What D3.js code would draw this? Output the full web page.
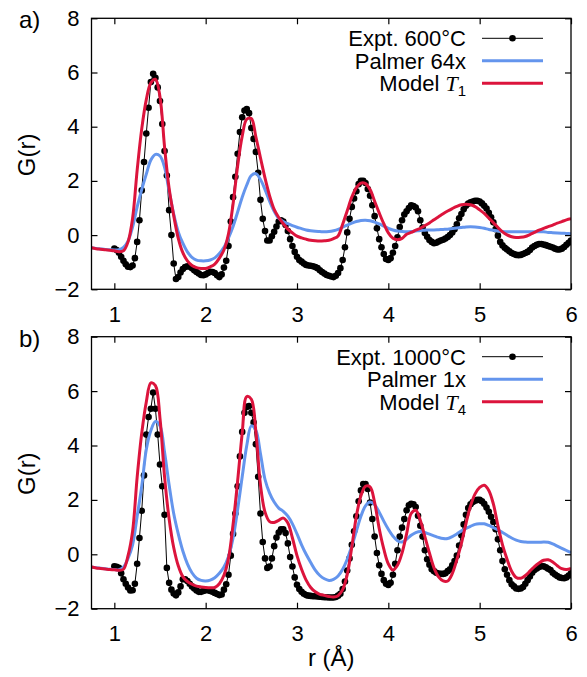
<!DOCTYPE html>
<html>
<head>
<meta charset="utf-8">
<script src="https://cdn.jsdelivr.net/npm/d3@7"></script>
<style>
  body { margin: 0; background: #fff; }
  svg { display: block; }
  text { font-family: "Liberation Sans", Arial, Helvetica, sans-serif; fill: #000; }
</style>
</head>
<body>
<svg id="chart" width="587" height="677"></svg>
<script>
// ---- sampling grids (Å) ----
const exptStart = 1.0, exptStep = 0.025;   // measured G(r) points
const lineStart = 0.75, lineStep = 0.05;   // simulated curves

const xTicks = [1, 2, 3, 4, 5, 6];
const yTicks = [-2, 0, 2, 4, 6, 8];
const xDomain = [0.75, 6];
const yDomain = [-2, 8];

// ---- panel a: 600 °C ----
const exptA = [
  -0.50,-0.55,-0.65,-0.80,-0.95,-1.08,-1.17,-1.18,
  -1.12,-0.85,-0.25, 0.55, 1.65, 2.70, 3.75, 4.70,
   5.65, 5.95, 5.80, 5.45, 4.95, 4.10, 3.10, 2.20,
   0.92, 0.00,-1.05,-1.62,-1.55,-1.38,-1.25,-1.18,
  -1.15,-1.17,-1.22,-1.30,-1.36,-1.42,-1.47,-1.48,
  -1.45,-1.40,-1.35,-1.36,-1.40,-1.48,-1.55,-1.45,
  -1.20,-0.95,-0.40, 0.50, 1.40, 2.15, 3.00, 3.80,
   4.35, 4.60, 4.65, 4.50, 3.95, 3.55, 3.07, 2.30,
   1.30, 0.60, 0.15,-0.20,-0.20,-0.04, 0.12, 0.32,
   0.50, 0.55, 0.50, 0.37, 0.15,-0.15,-0.40,-0.62,
  -0.80,-0.92,-0.98,-1.05,-1.10,-1.12,-1.13,-1.15,
  -1.18,-1.22,-1.30,-1.36,-1.42,-1.47,-1.50,-1.53,
  -1.55,-1.50,-1.40,-1.22,-0.92,-0.45, 0.10, 0.60,
   1.04, 1.35, 1.62, 1.88, 2.00, 2.00, 1.92, 1.70,
   1.45, 1.10, 0.70, 0.25,-0.15,-0.45,-0.70,-0.88,
  -0.92,-0.85,-0.65,-0.40,-0.08, 0.30, 0.55, 0.76,
   0.88, 1.00, 1.10, 1.07, 1.02, 0.88, 0.55, 0.28,
   0.08,-0.06,-0.18,-0.25,-0.30,-0.28,-0.24,-0.20,
  -0.17,-0.13,-0.07, 0.00, 0.10, 0.22, 0.40, 0.62,
   0.78, 0.95, 1.08, 1.16, 1.21, 1.24, 1.27, 1.27,
   1.24, 1.17, 1.08, 0.98, 0.82, 0.66, 0.47, 0.22,
  -0.02,-0.25,-0.38,-0.47,-0.53,-0.60,-0.66,-0.70,
  -0.73,-0.74,-0.73,-0.70,-0.66,-0.62,-0.55,-0.46,
  -0.40,-0.36,-0.33,-0.33,-0.35,-0.37,-0.40,-0.43,
  -0.46,-0.50,-0.53,-0.53,-0.50,-0.44,-0.36,-0.28,
  -0.20
];
const palmerA = [
  -0.47,-0.49,-0.51,-0.53,-0.54,
  -0.55,-0.54,-0.45,-0.22, 0.30,
   1.04, 1.68, 2.25, 2.77, 2.98,
   2.92, 2.50, 1.62, 0.78, 0.12,
  -0.30,-0.62,-0.82,-0.92,-0.95,
  -0.95,-0.92,-0.84,-0.68,-0.45,
  -0.10, 0.32, 0.85, 1.40, 1.85,
   2.20, 2.27, 2.05, 1.68, 1.25,
   0.88, 0.62, 0.50, 0.42, 0.35,
   0.29, 0.24, 0.19, 0.16, 0.14,
   0.13, 0.12, 0.13, 0.16, 0.21,
   0.29, 0.37, 0.44, 0.50, 0.54,
   0.55, 0.53, 0.48, 0.41, 0.33,
   0.25, 0.19, 0.15, 0.13, 0.12,
   0.13, 0.15, 0.17, 0.18, 0.19,
   0.19, 0.20, 0.21, 0.22, 0.24,
   0.26, 0.28, 0.30, 0.31, 0.30,
   0.28, 0.25, 0.21, 0.18, 0.15,
   0.13, 0.12, 0.12, 0.12, 0.12,
   0.12, 0.12, 0.12, 0.12, 0.12,
   0.10, 0.09, 0.08, 0.07, 0.06,
   0.05
];
const modelA = [
  -0.47,-0.50,-0.52,-0.54,-0.56,
  -0.58,-0.61,-0.58,-0.25, 0.62,
   2.40, 3.92, 5.00, 5.62, 5.75,
   5.10, 3.25, 1.72, 0.72,-0.12,
  -0.65,-0.95,-1.12,-1.20,-1.23,
  -1.23,-1.17,-1.07,-0.85,-0.55,
   0.05, 1.15, 2.55, 3.65, 4.28,
   4.30, 3.62, 2.85, 2.10, 1.45,
   0.95, 0.65, 0.42, 0.22, 0.08,
  -0.04,-0.10,-0.15,-0.19,-0.21,
  -0.22,-0.21,-0.19,-0.13,-0.03,
   0.40, 0.90, 1.40, 1.75, 1.92,
   1.90, 1.68, 1.25, 0.82, 0.42,
   0.08,-0.12,-0.17,-0.12, 0.03,
   0.10, 0.18, 0.25, 0.35, 0.45,
   0.57, 0.68, 0.79, 0.89, 0.98,
   1.06, 1.12, 1.14, 1.12, 1.05,
   0.93, 0.80, 0.63, 0.46, 0.28,
   0.12, 0.01,-0.06,-0.09,-0.08,
  -0.05, 0.02, 0.10, 0.18, 0.25,
   0.31, 0.37, 0.44, 0.50, 0.56,
   0.60
];

// ---- panel b: 1000 °C ----
const exptB = [
  -0.44,-0.46,-0.50,-0.70,-0.92,-1.08,-1.22,-1.33,
  -1.32,-1.08,-0.35, 0.60, 1.60, 2.90, 4.40, 5.05,
   5.35, 5.95, 5.35, 4.40, 3.30, 2.50, 1.45,-0.50,
  -1.05,-1.30,-1.44,-1.51,-1.40,-1.18,-0.92,-0.92,
  -0.98,-1.08,-1.18,-1.26,-1.33,-1.38,-1.38,-1.35,
  -1.32,-1.32,-1.35,-1.38,-1.42,-1.46,-1.50,-1.48,
  -1.30,-1.10,-0.75,-0.05, 0.75, 1.50, 2.50, 3.60,
   4.50, 5.20, 5.42, 5.45, 5.20, 4.85, 4.05, 2.85,
   1.50, 0.45,-0.15,-0.50,-0.45,-0.15, 0.30, 0.62,
   0.80, 0.92, 0.92, 0.78, 0.40,-0.10,-0.45,-0.85,
  -1.12,-1.28,-1.38,-1.45,-1.50,-1.52,-1.53,-1.54,
  -1.54,-1.55,-1.56,-1.57,-1.58,-1.58,-1.59,-1.59,
  -1.59,-1.57,-1.52,-1.45,-1.28,-1.00,-0.60,-0.15,
   0.35, 0.85, 1.40, 1.95, 2.35, 2.58, 2.58, 2.40,
   1.90, 1.30, 0.65, 0.05,-0.40,-0.72,-0.95,-1.08,
  -1.13,-1.05,-0.75,-0.35, 0.15, 0.65, 0.98, 1.30,
   1.62, 1.80, 1.86, 1.84, 1.74, 1.42, 1.05, 0.65,
   0.15,-0.18,-0.38,-0.55,-0.62,-0.68,-0.71,-0.72,
  -0.72,-0.70,-0.62,-0.55,-0.40,-0.25,-0.05, 0.32,
   0.70, 1.10, 1.45, 1.70, 1.84, 1.92, 1.97, 2.00,
   2.00, 1.95, 1.86, 1.72, 1.56, 1.38, 1.19, 0.92,
   0.55, 0.15,-0.25,-0.55,-0.75,-0.95,-1.10,-1.18,
  -1.26,-1.27,-1.26,-1.20,-1.08,-0.95,-0.82,-0.68,
  -0.58,-0.52,-0.47,-0.44,-0.44,-0.48,-0.53,-0.58,
  -0.68,-0.74,-0.80,-0.85,-0.87,-0.88,-0.85,-0.78,
  -0.70
];
const palmerB = [
  -0.47,-0.49,-0.51,-0.53,-0.55,
  -0.56,-0.57,-0.47,-0.15, 0.35,
   1.40, 2.50, 3.85, 4.55, 4.88,
   4.72, 3.75, 2.55, 1.50, 0.75,
   0.12,-0.35,-0.68,-0.88,-0.96,
  -0.98,-0.95,-0.86,-0.70,-0.47,
  -0.08, 0.60, 1.65, 2.85, 4.00,
   4.72, 4.55, 3.70, 2.75, 2.25,
   1.92, 1.70, 1.58, 1.40, 1.12,
   0.75, 0.35, 0.00,-0.30,-0.58,
  -0.78,-0.90,-0.96,-0.92,-0.80,
  -0.55,-0.18, 0.30, 0.85, 1.40,
   1.78, 1.92, 1.82, 1.55, 1.22,
   0.92, 0.67, 0.50, 0.45, 0.55,
   0.70, 0.80, 0.84, 0.80, 0.74,
   0.68, 0.62, 0.58, 0.58, 0.65,
   0.75, 0.86, 0.95, 1.03, 1.10,
   1.12, 1.12, 1.06, 0.98, 0.90,
   0.80, 0.70, 0.60, 0.52, 0.47,
   0.45, 0.44, 0.44, 0.44, 0.45,
   0.44, 0.38, 0.30, 0.22, 0.14,
   0.06
];
const modelB = [
  -0.47,-0.50,-0.52,-0.54,-0.56,
  -0.57,-0.59,-0.55,-0.05, 0.85,
   2.84, 4.45, 5.60, 6.30, 6.20,
   5.00, 2.85, 1.30, 0.25,-0.42,
  -0.82,-1.00,-1.10,-1.17,-1.20,
  -1.22,-1.23,-1.22,-1.08,-0.77,
  -0.15, 1.10, 2.70, 4.45, 5.80,
   5.70, 4.50, 2.55, 1.55, 1.20,
   1.17, 1.25, 1.33, 1.15, 0.60,
  -0.05,-0.55,-0.95,-1.22,-1.38,
  -1.47,-1.51,-1.55,-1.57,-1.52,
  -1.30,-0.75, 0.27, 1.40, 2.15,
   2.50, 2.48, 1.90, 0.95, 0.20,
  -0.35,-0.58,-0.40, 0.05, 0.75,
   1.50, 1.62, 1.25, 0.65, 0.05,
  -0.50,-0.83,-0.98,-0.98,-0.71,
  -0.20, 0.40, 1.13, 1.78, 2.22,
   2.46, 2.54, 2.35, 1.85, 1.05,
   0.35,-0.18,-0.62,-0.85,-0.88,
  -0.78,-0.62,-0.45,-0.32,-0.22,
  -0.20,-0.28,-0.42,-0.53,-0.56,
  -0.52
];

// legend entries: [text, subscript]
const legendA = [["Expt. 600°C", null], ["Palmer 64x", null], ["Model ", "1"]];
const legendB = [["Expt. 1000°C", null], ["Palmer 1x", null], ["Model ", "4"]];

const colExpt = "#000000";
const colPalmer = "#6495ed";
const colModel = "#dc143c";

// ---- layout ----
const svg = d3.select("#chart");
const plotLeft = 91.5, plotRight = 571;
const panels = [
  { tag: "a)", top: 18.3, bottom: 289.3, expt: exptA, palmer: palmerA, model: modelA, legend: legendA },
  { tag: "b)", top: 336.7, bottom: 608.7, expt: exptB, palmer: palmerB, model: modelB, legend: legendB }
];

const x = d3.scaleLinear().domain(xDomain).range([plotLeft, plotRight]);

function toPoints(values, start, step) {
  return values.map((v, i) => ({ r: start + i * step, g: v }));
}

panels.forEach((p, pi) => {
  const y = d3.scaleLinear().domain(yDomain).range([p.bottom, p.top]);
  const g = svg.append("g");

  const clipId = "clip" + pi;
  svg.append("clipPath").attr("id", clipId).append("rect")
    .attr("x", plotLeft).attr("y", p.top)
    .attr("width", plotRight - plotLeft).attr("height", p.bottom - p.top);

  const plot = g.append("g").attr("clip-path", `url(#${clipId})`);

  const exptPts = toPoints(p.expt, exptStart, exptStep);
  const palmerPts = toPoints(p.palmer, lineStart, lineStep);
  const modelPts = toPoints(p.model, lineStart, lineStep);

  const lineLin = d3.line().x(d => x(d.r)).y(d => y(d.g));
  const lineSmooth = d3.line().x(d => x(d.r)).y(d => y(d.g)).curve(d3.curveCatmullRom.alpha(0.5));

  // measured data: thin line with filled dots
  plot.append("path").datum(exptPts)
    .attr("d", lineLin).attr("fill", "none")
    .attr("stroke", colExpt).attr("stroke-width", 1);
  plot.selectAll("circle.expt").data(exptPts).join("circle")
    .attr("class", "expt")
    .attr("cx", d => x(d.r)).attr("cy", d => y(d.g))
    .attr("r", 3.3).attr("fill", colExpt);

  // simulated curves
  plot.append("path").datum(palmerPts)
    .attr("d", lineSmooth).attr("fill", "none")
    .attr("stroke", colPalmer).attr("stroke-width", 3);
  plot.append("path").datum(modelPts)
    .attr("d", lineSmooth).attr("fill", "none")
    .attr("stroke", colModel).attr("stroke-width", 3);

  // axes with inward ticks on all four sides
  const fontSize = 22;
  const axL = g.append("g").attr("transform", `translate(${plotLeft},0)`)
    .call(d3.axisLeft(y).tickValues(yTicks).tickSizeInner(-6).tickSizeOuter(0).tickPadding(12));
  const axB = g.append("g").attr("transform", `translate(0,${p.bottom})`)
    .call(d3.axisBottom(x).tickValues(xTicks).tickFormat(d3.format("d"))
      .tickSizeInner(-6).tickSizeOuter(0).tickPadding(17));
  const axT = g.append("g").attr("transform", `translate(0,${p.top})`)
    .call(d3.axisTop(x).tickValues(xTicks).tickSizeInner(-6).tickSizeOuter(0).tickFormat(""));
  const axR = g.append("g").attr("transform", `translate(${plotRight},0)`)
    .call(d3.axisRight(y).tickValues(yTicks).tickSizeInner(-6).tickSizeOuter(0).tickFormat(""));
  [axL, axB, axT, axR].forEach(a => {
    a.select(".domain").remove();
    a.selectAll("line").attr("stroke", "#000").attr("stroke-width", 1.2);
    a.selectAll("text").attr("font-size", fontSize)
      .attr("font-family", "'Liberation Sans', Arial, Helvetica, sans-serif").attr("fill", "#000");
  });

  // frame
  g.append("rect")
    .attr("x", plotLeft).attr("y", p.top)
    .attr("width", plotRight - plotLeft).attr("height", p.bottom - p.top)
    .attr("fill", "none").attr("stroke", "#000").attr("stroke-width", 1.3);

  // y title
  g.append("text")
    .attr("transform", `translate(35,${(p.top + p.bottom) / 2 + 1}) rotate(-90)`)
    .attr("text-anchor", "middle").attr("font-size", 24)
    .text("G(r)");

  // panel tag
  g.append("text").attr("x", 19).attr("y", p.top + 10)
    .attr("font-size", 24).text(p.tag);

  // legend
  const textEnd = 466, sx0 = 482, sx1 = 543;
  const rowOffsets = [20, 42.5, 65];
  const colors = [colExpt, colPalmer, colModel];
  p.legend.forEach((entry, i) => {
    const ry = p.top + rowOffsets[i];
    const t = g.append("text").attr("x", textEnd).attr("y", ry + 7.8)
      .attr("text-anchor", "end").attr("font-size", fontSize);
    t.append("tspan").text(entry[0]);
    if (entry[1] !== null) {
      t.append("tspan").attr("font-family", "'Liberation Serif', 'DejaVu Serif', serif")
        .attr("font-style", "italic").text("T");
      t.append("tspan").attr("font-size", 15).attr("dy", 5).text(entry[1]);
    }
    g.append("line").attr("x1", sx0).attr("x2", sx1).attr("y1", ry).attr("y2", ry)
      .attr("stroke", colors[i]).attr("stroke-width", i === 0 ? 1 : 3);
    if (i === 0) {
      g.append("circle").attr("cx", (sx0 + sx1) / 2).attr("cy", ry).attr("r", 3.3).attr("fill", colExpt);
    }
  });
});

// x title
svg.append("text")
  .attr("x", (plotLeft + plotRight) / 2).attr("y", 666)
  .attr("text-anchor", "middle").attr("font-size", 24)
  .text("r (Å)");
</script>
</body>
</html>
